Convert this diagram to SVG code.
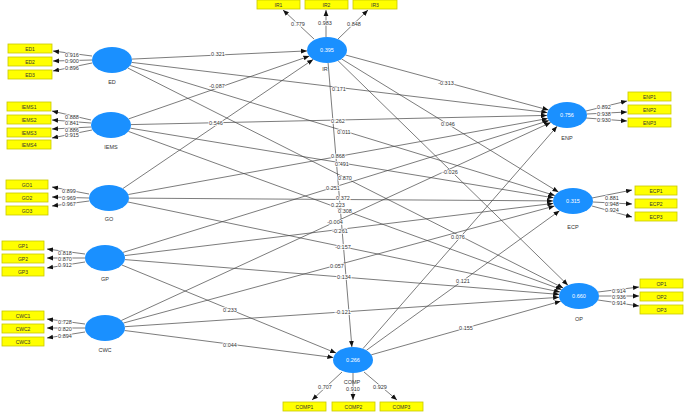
<svg xmlns="http://www.w3.org/2000/svg" width="685" height="412" viewBox="0 0 685 412">
<defs>
<marker id="ah" markerUnits="userSpaceOnUse" markerWidth="6" markerHeight="6" viewBox="0 0 6 6" refX="6" refY="3" orient="auto">
<path d="M0,0.6 L6,3 L0,5.4 Z" fill="#111"/>
</marker>
<style>
.c{fill:#1a90ff;}
.v{font-family:"Liberation Sans",Arial,sans-serif;font-size:5.5px;fill:#fff;text-anchor:middle;}
.n{font-family:"Liberation Sans",Arial,sans-serif;font-size:5.5px;fill:#333;text-anchor:middle;}
.ind rect{fill:#ffff00;stroke:#c8c800;stroke-width:0.8;}
.ind text{font-family:"Liberation Sans",Arial,sans-serif;font-size:5px;fill:#333;text-anchor:middle;}
.e line{stroke:#444;stroke-width:0.7;marker-end:url(#ah);}
.lb text{font-family:"Liberation Sans",Arial,sans-serif;font-size:5.5px;fill:#333;text-anchor:middle;stroke:#fff;stroke-width:1.6;paint-order:stroke;}
</style>
</defs>
<rect width="685" height="412" fill="#fff"/>
<g id="connectors" class="e">
<line x1="131.9" y1="59.1" x2="307" y2="50.9"/>
<line x1="128.6" y1="118.9" x2="309.4" y2="56.1"/>
<line x1="122.8" y1="188.6" x2="313.2" y2="59.4"/>
<line x1="121.9" y1="265" x2="336.1" y2="353.1"/>
<line x1="124.6" y1="330.5" x2="333.4" y2="357.5"/>
<line x1="345.5" y1="55" x2="548.5" y2="110"/>
<line x1="341.5" y1="58.9" x2="558.5" y2="192.1"/>
<line x1="338.1" y1="60.8" x2="567.9" y2="285.2"/>
<line x1="362.9" y1="348.7" x2="557.1" y2="126.3"/>
<line x1="366.4" y1="350.3" x2="559.6" y2="210.7"/>
<line x1="371.3" y1="354.8" x2="560.7" y2="301.2"/>
<line x1="328.1" y1="63" x2="351.9" y2="347"/>
<line x1="131.7" y1="62.4" x2="547.3" y2="112.6"/>
<line x1="130.1" y1="65.5" x2="554.9" y2="195.5"/>
<line x1="127.8" y1="68" x2="563.2" y2="288"/>
<line x1="131" y1="124.6" x2="547" y2="115.4"/>
<line x1="130.4" y1="128.2" x2="553.6" y2="197.8"/>
<line x1="128.4" y1="131.4" x2="561.6" y2="289.6"/>
<line x1="128.3" y1="194.5" x2="547.7" y2="118.5"/>
<line x1="129" y1="198.1" x2="553" y2="200.9"/>
<line x1="128" y1="202" x2="560" y2="292"/>
<line x1="123.1" y1="252.4" x2="548.9" y2="120.6"/>
<line x1="124.7" y1="255.6" x2="553.3" y2="203.4"/>
<line x1="124.9" y1="259.6" x2="559.2" y2="294.4"/>
<line x1="121.3" y1="320.5" x2="550.7" y2="122.5"/>
<line x1="123.5" y1="323" x2="554.5" y2="206"/>
<line x1="124.9" y1="326.7" x2="559.1" y2="297.3"/>
<line x1="92" y1="56" x2="53" y2="51"/>
<line x1="92" y1="60" x2="53" y2="61"/>
<line x1="92" y1="63" x2="53" y2="71"/>
<line x1="91" y1="120" x2="52" y2="111"/>
<line x1="91" y1="123" x2="52" y2="120"/>
<line x1="91" y1="127" x2="52" y2="129"/>
<line x1="92" y1="130" x2="52" y2="138"/>
<line x1="89" y1="194" x2="52" y2="187"/>
<line x1="89" y1="198" x2="52" y2="197"/>
<line x1="89" y1="201" x2="52" y2="206"/>
<line x1="85" y1="254" x2="47" y2="249"/>
<line x1="85" y1="258" x2="47" y2="258"/>
<line x1="85" y1="262" x2="47" y2="268"/>
<line x1="85" y1="324" x2="47" y2="319"/>
<line x1="85" y1="328" x2="47" y2="328"/>
<line x1="85" y1="332" x2="47" y2="338"/>
<line x1="314" y1="39" x2="283" y2="10"/>
<line x1="326" y1="37" x2="326" y2="10"/>
<line x1="338" y1="39" x2="368" y2="10"/>
<line x1="586" y1="111" x2="627" y2="101"/>
<line x1="587" y1="114" x2="627" y2="112"/>
<line x1="586" y1="118" x2="627" y2="121"/>
<line x1="592" y1="198" x2="632" y2="190"/>
<line x1="593" y1="202" x2="632" y2="204"/>
<line x1="592" y1="206" x2="632" y2="217"/>
<line x1="598" y1="292" x2="639" y2="287"/>
<line x1="599" y1="296" x2="639" y2="296"/>
<line x1="598" y1="300" x2="639" y2="306"/>
<line x1="342" y1="372" x2="312" y2="400"/>
<line x1="353" y1="373" x2="353" y2="400"/>
<line x1="364" y1="372" x2="397" y2="400"/>
</g>
<g id="coefficients" class="lb">
<text x="218" y="56">0.321</text>
<text x="217" y="88">-0.087</text>
<text x="216" y="125">0.546</text>
<text x="339" y="91">0.171</text>
<text x="344" y="134">0.011</text>
<text x="338" y="123">0.262</text>
<text x="338" y="158">0.868</text>
<text x="342" y="166">0.491</text>
<text x="345" y="180">0.870</text>
<text x="333" y="190">0.251</text>
<text x="343" y="200">0.372</text>
<text x="338" y="207">0.223</text>
<text x="345" y="213">0.308</text>
<text x="335" y="224">-0.004</text>
<text x="340" y="233">-0.261</text>
<text x="343" y="249">-0.157</text>
<text x="337" y="268">0.057</text>
<text x="344" y="279">0.134</text>
<text x="343" y="314">-0.121</text>
<text x="230" y="312">0.233</text>
<text x="230" y="347">0.044</text>
<text x="446" y="85">-0.313</text>
<text x="448" y="126">0.046</text>
<text x="450" y="174">-0.026</text>
<text x="458" y="239">0.076</text>
<text x="463" y="283">0.121</text>
<text x="466" y="330">0.155</text>
<text x="72" y="57">0.916</text>
<text x="72" y="63">0.900</text>
<text x="72" y="70">0.896</text>
<text x="72" y="119">0.888</text>
<text x="72" y="125">0.841</text>
<text x="72" y="132">0.886</text>
<text x="72" y="137">0.915</text>
<text x="69" y="193">0.899</text>
<text x="69" y="200">0.969</text>
<text x="69" y="206">0.967</text>
<text x="65" y="255">0.818</text>
<text x="65" y="261">0.870</text>
<text x="65" y="267">0.912</text>
<text x="65" y="324">0.728</text>
<text x="65" y="331">0.820</text>
<text x="65" y="338">0.894</text>
<text x="298" y="26">0.779</text>
<text x="325" y="25">0.983</text>
<text x="354" y="26">0.848</text>
<text x="604" y="109">0.892</text>
<text x="604" y="116">0.938</text>
<text x="604" y="122">0.930</text>
<text x="612" y="200">0.881</text>
<text x="612" y="206">0.948</text>
<text x="612" y="212">0.924</text>
<text x="619" y="293">0.914</text>
<text x="619" y="299">0.936</text>
<text x="619" y="305">0.914</text>
<text x="325" y="389">0.707</text>
<text x="353" y="391">0.910</text>
<text x="380" y="389">0.929</text>
</g>
<g id="ED"><ellipse class="c" cx="112" cy="60" rx="20" ry="13"/><text class="n" x="112" y="84">ED</text></g>
<g id="IEMS"><ellipse class="c" cx="111" cy="125" rx="20" ry="13"/><text class="n" x="111" y="149">IEMS</text></g>
<g id="GO"><ellipse class="c" cx="109" cy="198" rx="20" ry="13"/><text class="n" x="109" y="221">GO</text></g>
<g id="GP"><ellipse class="c" cx="105" cy="258" rx="20" ry="13"/><text class="n" x="105" y="281">GP</text></g>
<g id="CWC"><ellipse class="c" cx="105" cy="328" rx="20" ry="13"/><text class="n" x="105" y="352">CWC</text></g>
<g id="IR"><ellipse class="c" cx="327" cy="50" rx="20" ry="13"/><text class="v" x="327" y="52">0.395</text><text class="n" x="325" y="71">IR</text></g>
<g id="ENP"><ellipse class="c" cx="567" cy="115" rx="20" ry="13"/><text class="v" x="567" y="117">0.756</text><text class="n" x="567" y="140">ENP</text></g>
<g id="ECP"><ellipse class="c" cx="573" cy="201" rx="20" ry="13"/><text class="v" x="573" y="203">0.315</text><text class="n" x="573" y="229">ECP</text></g>
<g id="OP"><ellipse class="c" cx="579" cy="296" rx="20" ry="13"/><text class="v" x="579" y="298">0.660</text><text class="n" x="579" y="321">OP</text></g>
<g id="COMP"><ellipse class="c" cx="353" cy="360" rx="20" ry="13"/><text class="v" x="353" y="362">0.266</text><text class="n" x="352" y="384">COMP</text></g>
<g id="indicators" class="ind">
<g id="ED1"><rect x="8" y="44" width="44" height="9"/><text x="30" y="50.5">ED1</text></g>
<g id="ED2"><rect x="8" y="57" width="44" height="9"/><text x="30" y="63.5">ED2</text></g>
<g id="ED3"><rect x="8" y="70" width="44" height="9"/><text x="30" y="76.5">ED3</text></g>
<g id="IEMS1"><rect x="7" y="102" width="44" height="9"/><text x="29" y="108.5">IEMS1</text></g>
<g id="IEMS2"><rect x="7" y="115" width="44" height="9"/><text x="29" y="121.5">IEMS2</text></g>
<g id="IEMS3"><rect x="7" y="128" width="44" height="9"/><text x="29" y="134.5">IEMS3</text></g>
<g id="IEMS4"><rect x="7" y="140" width="44" height="9"/><text x="29" y="146.5">IEMS4</text></g>
<g id="GO1"><rect x="6" y="180" width="42" height="9"/><text x="27" y="186.5">GO1</text></g>
<g id="GO2"><rect x="6" y="193" width="42" height="9"/><text x="27" y="199.5">GO2</text></g>
<g id="GO3"><rect x="6" y="206" width="42" height="9"/><text x="27" y="212.5">GO3</text></g>
<g id="GP1"><rect x="2" y="241" width="42" height="9"/><text x="23" y="247.5">GP1</text></g>
<g id="GP2"><rect x="2" y="254" width="42" height="9"/><text x="23" y="260.5">GP2</text></g>
<g id="GP3"><rect x="2" y="267" width="42" height="9"/><text x="23" y="273.5">GP3</text></g>
<g id="CWC1"><rect x="2" y="311" width="42" height="9"/><text x="23" y="317.5">CWC1</text></g>
<g id="CWC2"><rect x="2" y="324" width="42" height="9"/><text x="23" y="330.5">CWC2</text></g>
<g id="CWC3"><rect x="2" y="337" width="42" height="9"/><text x="23" y="343.5">CWC3</text></g>
<g id="IR1"><rect x="257" y="0" width="43" height="9"/><text x="278.5" y="6.5">IR1</text></g>
<g id="IR2"><rect x="305" y="0" width="43" height="9"/><text x="326.5" y="6.5">IR2</text></g>
<g id="IR3"><rect x="353" y="0" width="44" height="9"/><text x="375" y="6.5">IR3</text></g>
<g id="ENP1"><rect x="628" y="92" width="43" height="9"/><text x="649.5" y="98.5">ENP1</text></g>
<g id="ENP2"><rect x="628" y="105" width="43" height="9"/><text x="649.5" y="111.5">ENP2</text></g>
<g id="ENP3"><rect x="628" y="118" width="43" height="9"/><text x="649.5" y="124.5">ENP3</text></g>
<g id="ECP1"><rect x="635" y="186" width="42" height="9"/><text x="656" y="192.5">ECP1</text></g>
<g id="ECP2"><rect x="635" y="199" width="42" height="9"/><text x="656" y="205.5">ECP2</text></g>
<g id="ECP3"><rect x="635" y="212" width="42" height="9"/><text x="656" y="218.5">ECP3</text></g>
<g id="OP1"><rect x="640" y="279" width="43" height="9"/><text x="661.5" y="285.5">OP1</text></g>
<g id="OP2"><rect x="640" y="292" width="43" height="9"/><text x="661.5" y="298.5">OP2</text></g>
<g id="OP3"><rect x="640" y="305" width="43" height="9"/><text x="661.5" y="311.5">OP3</text></g>
<g id="COMP1"><rect x="283" y="402" width="43" height="9"/><text x="304.5" y="408.5">COMP1</text></g>
<g id="COMP2"><rect x="332" y="402" width="43" height="9"/><text x="353.5" y="408.5">COMP2</text></g>
<g id="COMP3"><rect x="380" y="402" width="43" height="9"/><text x="401.5" y="408.5">COMP3</text></g>
</g>
</svg>
